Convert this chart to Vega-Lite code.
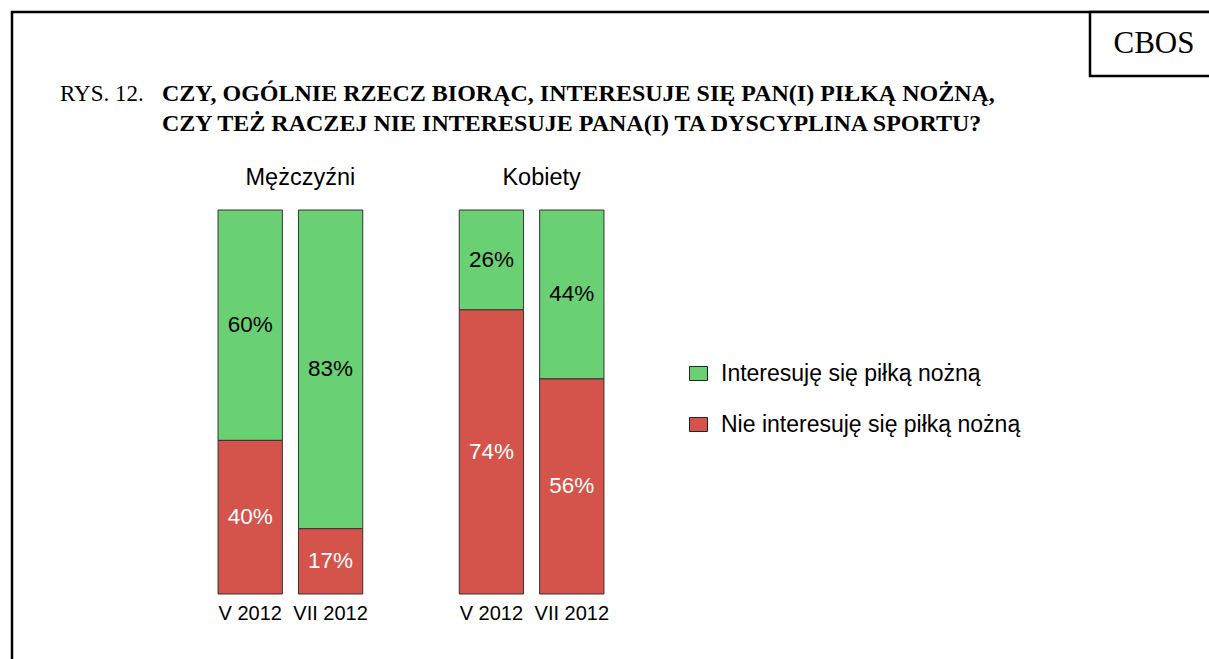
{
  "$schema": "https://vega.github.io/schema/vega-lite/v6.json",
  "width": 1202,
  "height": 652,
  "autosize": {"type": "none"},
  "padding": {"left": 12, "top": 12, "right": -5, "bottom": -5},
  "background": "white",
  "view": {"stroke": "black", "strokeWidth": 2.5},
  "title": {
    "text": "RYS. 12.",
    "subtitle": [
      "\u200b\u00a0\u00a0\u00a0\u00a0\u00a0\u00a0\u00a0\u00a0\u00a0\u00a0\u00a0\u00a0\u00a0\u00a0\u00a0\u00a0\u00a0CZY, OGÓLNIE RZECZ BIORĄC, INTERESUJE SIĘ PAN(I) PIŁKĄ NOŻNĄ,",
      "\u200b\u00a0\u00a0\u00a0\u00a0\u00a0\u00a0\u00a0\u00a0\u00a0\u00a0\u00a0\u00a0\u00a0\u00a0\u00a0\u00a0\u00a0CZY TEŻ RACZEJ NIE INTERESUJE PANA(I) TA DYSCYPLINA SPORTU?"
    ],
    "anchor": "start",
    "frame": "group",
    "orient": "top",
    "font": "Times New Roman, Liberation Serif, serif",
    "fontSize": 23,
    "fontWeight": "normal",
    "color": "black",
    "subtitleFont": "Times New Roman, Liberation Serif, serif",
    "subtitleFontSize": 24,
    "subtitleFontWeight": "bold",
    "subtitleColor": "black",
    "subtitleLineHeight": 30,
    "subtitlePadding": -24,
    "dx": 48,
    "offset": -126
  },
  "datasets": {
    "survey": [
      {"group": "Mężczyźni", "period": "V 2012", "bar": "Mężczyźni|V 2012", "answer": "Interesuję się piłką nożną", "share": 0.60},
      {"group": "Mężczyźni", "period": "V 2012", "bar": "Mężczyźni|V 2012", "answer": "Nie interesuję się piłką nożną", "share": 0.40},
      {"group": "Mężczyźni", "period": "VII 2012", "bar": "Mężczyźni|VII 2012", "answer": "Interesuję się piłką nożną", "share": 0.83},
      {"group": "Mężczyźni", "period": "VII 2012", "bar": "Mężczyźni|VII 2012", "answer": "Nie interesuję się piłką nożną", "share": 0.17},
      {"group": "Kobiety", "period": "V 2012", "bar": "Kobiety|V 2012", "answer": "Interesuję się piłką nożną", "share": 0.26},
      {"group": "Kobiety", "period": "V 2012", "bar": "Kobiety|V 2012", "answer": "Nie interesuję się piłką nożną", "share": 0.74},
      {"group": "Kobiety", "period": "VII 2012", "bar": "Kobiety|VII 2012", "answer": "Interesuję się piłką nożną", "share": 0.44},
      {"group": "Kobiety", "period": "VII 2012", "bar": "Kobiety|VII 2012", "answer": "Nie interesuję się piłką nożną", "share": 0.56}
    ],
    "groups": [
      {"group": "Mężczyźni", "bar": "Mężczyźni|VII 2012"},
      {"group": "Kobiety", "bar": "Kobiety|VII 2012"}
    ],
    "brand": [{"name": "CBOS"}]
  },
  "encoding": {
    "x": {
      "field": "bar",
      "type": "nominal",
      "sort": null,
      "scale": {
        "domain": ["Mężczyźni|V 2012", "Mężczyźni|VII 2012", "gap", "Kobiety|V 2012", "Kobiety|VII 2012"],
        "range": [198, 600],
        "paddingInner": 0.2,
        "paddingOuter": 0.1
      },
      "axis": {
        "title": null,
        "orient": "bottom",
        "offset": -70,
        "domain": false,
        "ticks": false,
        "tickSize": 0,
        "grid": false,
        "labelAngle": 0,
        "labelPadding": 9,
        "labelFont": "Arial, Liberation Sans, sans-serif",
        "labelFontSize": 20,
        "labelColor": "black",
        "labelExpr": "datum.value == 'gap' ? '' : split(datum.value, '|')[1]"
      }
    }
  },
  "layer": [
    {
      "data": {"name": "survey"},
      "transform": [
        {"stack": "share", "groupby": ["bar"], "sort": [{"field": "answer", "order": "descending"}], "as": ["v0", "v1"]}
      ],
      "mark": {"type": "bar", "stroke": "#333333", "strokeWidth": 1},
      "encoding": {
        "y": {"field": "v0", "type": "quantitative", "scale": {"domain": [0, 1], "range": [582, 198]}, "axis": null},
        "y2": {"field": "v1"},
        "color": {
          "field": "answer",
          "type": "nominal",
          "scale": {"domain": ["Interesuję się piłką nożną", "Nie interesuję się piłką nożną"], "range": ["#69D173", "#D4544B"]},
          "legend": {
            "title": null,
            "orient": "none",
            "legendX": 675,
            "legendY": 350,
            "direction": "vertical",
            "padding": 0,
            "symbolType": "M-1,-0.78H1V0.78H-1Z",
            "symbolSize": 324,
            "symbolStrokeColor": "#222222",
            "symbolStrokeWidth": 1,
            "symbolOpacity": 1,
            "labelFont": "Arial, Liberation Sans, sans-serif",
            "labelFontSize": 23,
            "labelColor": "black",
            "labelOffset": 11,
            "labelLimit": 500,
            "rowPadding": 27
          }
        }
      }
    },
    {
      "data": {"name": "survey"},
      "transform": [
        {"stack": "share", "groupby": ["bar"], "sort": [{"field": "answer", "order": "descending"}], "as": ["v0", "v1"]},
        {"calculate": "(datum.v0 + datum.v1) / 2", "as": "mid"}
      ],
      "mark": {"type": "text", "font": "Arial, Liberation Sans, sans-serif", "fontSize": 22.5, "align": "center", "baseline": "middle"},
      "encoding": {
        "y": {"field": "mid", "type": "quantitative", "scale": {"domain": [0, 1], "range": [582, 198]}, "axis": null},
        "text": {"field": "share", "type": "quantitative", "format": ".0%"},
        "color": {
          "condition": {"test": "datum.answer == 'Interesuję się piłką nożną'", "value": "black"},
          "value": "white"
        }
      }
    },
    {
      "data": {"name": "groups"},
      "mark": {"type": "text", "font": "Arial, Liberation Sans, sans-serif", "fontSize": 23.5, "align": "center", "baseline": "alphabetic", "dy": -25, "color": "black"},
      "encoding": {
        "x": {
          "field": "bar",
          "type": "nominal",
          "sort": null,
          "bandPosition": 0.03,
          "scale": {
            "domain": ["Mężczyźni|V 2012", "Mężczyźni|VII 2012", "gap", "Kobiety|V 2012", "Kobiety|VII 2012"],
            "range": [198, 600],
            "paddingInner": 0.2,
            "paddingOuter": 0.1
          },
          "axis": {
            "title": null,
            "orient": "bottom",
            "offset": -70,
            "domain": false,
            "ticks": false,
            "tickSize": 0,
            "grid": false,
            "labelAngle": 0,
            "labelPadding": 9,
            "labelFont": "Arial, Liberation Sans, sans-serif",
            "labelFontSize": 20,
            "labelColor": "black",
            "labelExpr": "datum.value == 'gap' ? '' : split(datum.value, '|')[1]"
          }
        },
        "y": {"datum": 1, "type": "quantitative", "scale": {"domain": [0, 1], "range": [582, 198]}, "axis": null},
        "text": {"field": "group", "type": "nominal"}
      }
    },
    {
      "data": {"name": "brand"},
      "mark": {"type": "rect", "fill": "white", "stroke": "black", "strokeWidth": 2.5, "clip": false},
      "encoding": {
        "x": {"value": 1078},
        "x2": {"value": 1260},
        "y": {"value": 0},
        "y2": {"value": 64}
      }
    },
    {
      "data": {"name": "brand"},
      "mark": {"type": "text", "font": "Times New Roman, Liberation Serif, serif", "fontSize": 31, "align": "center", "baseline": "alphabetic", "color": "black"},
      "encoding": {
        "x": {"value": 1142},
        "y": {"value": 41},
        "text": {"field": "name", "type": "nominal"}
      }
    }
  ],
  "config": {
    "font": "Arial, Liberation Sans, sans-serif",
    "axis": {"grid": false},
    "legend": {"labelLimit": 500}
  }
}
